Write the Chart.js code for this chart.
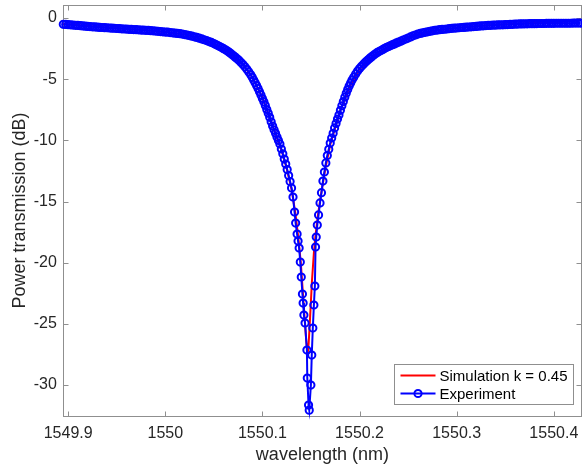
<!DOCTYPE html>
<html>
<head>
<meta charset="utf-8">
<script src="https://cdn.jsdelivr.net/npm/chart.js@4/dist/chart.umd.min.js"></script>
<style>
html, body { margin: 0; padding: 0; background: #fff; }
canvas { display: block; }
</style>
</head>
<body>
<canvas id="c" width="582" height="467"></canvas>
<script>
// measured transmission (nm, dB)
const expWavelength = [
  1549.8950,1549.8975,1549.9000,1549.9025,1549.9050,1549.9075,1549.9100,1549.9125,1549.9150,1549.9175,
  1549.9200,1549.9225,1549.9250,1549.9275,1549.9300,1549.9325,1549.9350,1549.9375,1549.9400,1549.9425,
  1549.9450,1549.9475,1549.9500,1549.9525,1549.9550,1549.9575,1549.9600,1549.9625,1549.9650,1549.9675,
  1549.9700,1549.9725,1549.9750,1549.9775,1549.9800,1549.9825,1549.9850,1549.9875,1549.9900,1549.9925,
  1549.9950,1549.9975,1550.0000,1550.0025,1550.0050,1550.0075,1550.0100,1550.0125,1550.0150,1550.0175,
  1550.0200,1550.0225,1550.0250,1550.0275,1550.0300,1550.0325,1550.0350,1550.0375,1550.0400,1550.0425,
  1550.0450,1550.0475,
  1550.050,1550.052,1550.054,1550.056,1550.058,1550.060,1550.062,1550.064,1550.066,1550.068,
  1550.070,1550.072,1550.074,1550.076,1550.078,1550.080,1550.082,1550.084,1550.086,1550.088,
  1550.0895,1550.0910,1550.0925,1550.0940,1550.0955,1550.0970,1550.0985,1550.1000,1550.1015,1550.1030,
  1550.1045,1550.1060,1550.1075,1550.1090,1550.1105,1550.1120,1550.1135,1550.1150,1550.1165,1550.1180,
  1550.1195,1550.1210,1550.1225,1550.1240,1550.1255,1550.1270,1550.1285,1550.1300,1550.1315,
  1550.1331,1550.1342,1550.1357,1550.1367,1550.1378,1550.1390,1550.1400,1550.1412,1550.1419,1550.1427,
  1550.1439,1550.1458,1550.1462,1550.1475,1550.1482,1550.1499,1550.1508,1550.1519,1550.1530,1550.1540,
  1550.1547,1550.1554,1550.1565,1550.1578,1550.1593,
  1550.1608,1550.1623,1550.1638,1550.1653,1550.1668,1550.1683,1550.1698,1550.1713,1550.1728,1550.1743,
  1550.1758,1550.1773,1550.1788,1550.1803,1550.1818,1550.1833,1550.1848,1550.1863,1550.1878,1550.1893,
  1550.1908,1550.1923,
  1550.194,1550.196,1550.198,1550.200,1550.202,1550.204,1550.206,1550.208,1550.210,1550.212,
  1550.214,1550.216,1550.218,1550.220,1550.222,1550.224,1550.226,1550.228,1550.230,1550.232,
  1550.234,1550.236,1550.238,1550.240,
  1550.2425,1550.2450,1550.2475,1550.2500,1550.2525,1550.2550,1550.2575,1550.2600,1550.2625,1550.2650,
  1550.2675,1550.2700,1550.2725,1550.2750,1550.2775,1550.2800,1550.2825,1550.2850,1550.2875,1550.2900,
  1550.2925,1550.2950,1550.2975,1550.3000,1550.3025,1550.3050,1550.3075,1550.3100,1550.3125,1550.3150,
  1550.3175,1550.3200,1550.3225,1550.3250,1550.3275,1550.3300,1550.3325,1550.3350,1550.3375,1550.3400,
  1550.3425,1550.3450,1550.3475,1550.3500,1550.3525,1550.3550,1550.3575,1550.3600,1550.3625,1550.3650,
  1550.3675,1550.3700,1550.3725,1550.3750,1550.3775,1550.3800,1550.3825,1550.3850,1550.3875,1550.3900,
  1550.3925,1550.3950,1550.3975,1550.4000,1550.4025,1550.4050,1550.4075,1550.4100,1550.4125,1550.4150,
  1550.4175,1550.4200,1550.4225,1550.4250,1550.4275
];
const expPower = [
  -0.52,-0.53,-0.55,-0.56,-0.58,-0.60,-0.61,-0.63,-0.65,-0.67,
  -0.69,-0.70,-0.72,-0.73,-0.75,-0.77,-0.78,-0.79,-0.80,-0.82,
  -0.83,-0.84,-0.86,-0.87,-0.89,-0.90,-0.91,-0.93,-0.94,-0.95,
  -0.96,-0.97,-0.99,-1.00,-1.01,-1.02,-1.04,-1.05,-1.07,-1.09,
  -1.11,-1.13,-1.15,-1.16,-1.19,-1.21,-1.24,-1.26,-1.28,-1.32,
  -1.36,-1.40,-1.44,-1.49,-1.54,-1.59,-1.65,-1.71,-1.78,-1.85,
  -1.93,-2.00,
  -2.09,-2.17,-2.25,-2.33,-2.42,-2.51,-2.60,-2.70,-2.82,-2.94,
  -3.07,-3.20,-3.34,-3.47,-3.64,-3.81,-3.99,-4.20,-4.41,-4.64,
  -4.85,-5.07,-5.29,-5.52,-5.76,-6.03,-6.29,-6.58,-6.85,-7.15,
  -7.48,-7.79,-8.12,-8.49,-8.83,-9.14,-9.43,-9.73,-10.01,-10.30,
  -10.71,-11.10,-11.53,-11.94,-12.39,-12.88,-13.37,-13.90,-14.63,
  -15.86,-16.76,-17.66,-18.23,-18.80,-19.95,-21.17,-22.56,-23.30,-24.28,
  -24.93,-27.14,-29.43,-31.64,-32.05,-30.00,-27.55,-25.34,-23.46,-21.91,
  -18.72,-17.90,-16.92,-16.10,-15.12,
  -14.28,-13.33,-12.59,-11.85,-11.24,-10.73,-10.22,-9.81,-9.43,-8.99,
  -8.62,-8.26,-7.93,-7.55,-7.18,-6.83,-6.47,-6.15,-5.85,-5.56,
  -5.31,-5.07,
  -4.84,-4.57,-4.34,-4.13,-3.95,-3.78,-3.61,-3.47,-3.33,-3.20,
  -3.07,-2.95,-2.84,-2.75,-2.66,-2.57,-2.48,-2.40,-2.33,-2.25,
  -2.18,-2.12,-2.04,-1.98,
  -1.90,-1.81,-1.72,-1.64,-1.55,-1.46,-1.39,-1.32,-1.26,-1.21,
  -1.17,-1.13,-1.09,-1.05,-1.01,-0.99,-0.96,-0.94,-0.92,-0.90,
  -0.87,-0.85,-0.83,-0.82,-0.80,-0.78,-0.77,-0.75,-0.74,-0.72,
  -0.70,-0.69,-0.67,-0.65,-0.64,-0.62,-0.61,-0.60,-0.59,-0.58,
  -0.57,-0.56,-0.56,-0.55,-0.54,-0.53,-0.52,-0.51,-0.50,-0.49,
  -0.49,-0.48,-0.48,-0.47,-0.47,-0.47,-0.46,-0.45,-0.45,-0.45,
  -0.44,-0.44,-0.44,-0.44,-0.43,-0.43,-0.43,-0.43,-0.43,-0.43,
  -0.43,-0.42,-0.42,-0.42,-0.42
];

// simulated curve, k = 0.45
const simWavelength = [
  1549.895,1549.92,1549.95,1549.98,1550.00,1550.02,1550.04,1550.06,1550.08,1550.09,
  1550.10,1550.11,1550.12,1550.125,1550.13,1550.134,1550.137,1550.1395,1550.1415,1550.1434,
  1550.1450,1550.1460,1550.1468,1550.1476,1550.1490,1550.1510,1550.1530,1550.1545,1550.1570,1550.160,
  1550.165,1550.170,1550.180,1550.190,1550.200,1550.220,1550.240,1550.260,1550.280,1550.300,
  1550.330,1550.360,1550.390,1550.410,1550.4275
];
const simPower = [
  -0.50,-0.66,-0.84,-1.00,-1.14,-1.35,-1.78,-2.50,-3.80,-4.90,
  -6.50,-8.70,-10.90,-12.30,-14.00,-16.00,-18.00,-20.00,-22.30,-24.50,
  -26.30,-27.10,-27.30,-26.60,-24.60,-21.50,-19.20,-17.90,-16.20,-14.60,
  -12.20,-10.30,-7.60,-5.60,-4.20,-2.80,-2.00,-1.35,-1.00,-0.82,
  -0.62,-0.48,-0.38,-0.30,-0.15
];

const xTicks = [1549.9, 1550, 1550.1, 1550.2, 1550.3, 1550.4];
const yTicks = [-30, -25, -20, -15, -10, -5, 0];
const seriesLabels = ['Simulation k = 0.45', 'Experiment'];

const FONT = '"Liberation Sans", Arial, Helvetica, sans-serif';
const TEXT = '#262626';
const EDGE = '#8f8f8f';

const toPoints = (xs, ys) => xs.map((x, i) => ({ x: x, y: ys[i] }));

// matlab-ish box with inward ticks on all four sides
const boxPlugin = {
  id: 'box',
  beforeDatasetsDraw(chart) {
    const { ctx, chartArea: a, scales } = chart;
    const L = Math.round(a.left) + 0.5, R = Math.round(a.right) - 0.5;
    const T = Math.round(a.top) + 0.5, B = Math.round(a.bottom) + 0.5;
    ctx.save();
    ctx.strokeStyle = EDGE;
    ctx.lineWidth = 1;
    ctx.beginPath();
    xTicks.forEach(v => {
      const px = Math.round(scales.x.getPixelForValue(v)) + 0.5;
      ctx.moveTo(px, B); ctx.lineTo(px, B - 5);
      ctx.moveTo(px, T); ctx.lineTo(px, T + 5);
    });
    yTicks.forEach(v => {
      const py = Math.round(scales.y.getPixelForValue(v)) + 0.5;
      ctx.moveTo(L, py); ctx.lineTo(L + 5, py);
      ctx.moveTo(R, py); ctx.lineTo(R - 5, py);
    });
    ctx.stroke();
    ctx.strokeRect(L, T, R - L, B - T);
    ctx.restore();
  }
};

// legend box in the lower right corner of the axes
const legendPlugin = {
  id: 'cornerLegend',
  afterDatasetsDraw(chart) {
    const { ctx, chartArea: a } = chart;
    const w = 179, h = 40;
    const x0 = Math.round(a.right - 187.5) + 0.5, y0 = Math.round(a.bottom - 52) + 0.5;
    ctx.save();
    ctx.fillStyle = '#fff';
    ctx.fillRect(x0, y0, w, h);
    ctx.strokeStyle = EDGE;
    ctx.lineWidth = 1;
    ctx.strokeRect(x0, y0, w, h);
    ctx.font = '15px ' + FONT;
    ctx.textBaseline = 'middle';
    ctx.textAlign = 'left';
    chart.data.datasets.forEach((ds, i) => {
      const y = y0 + 11 + i * 18;
      ctx.strokeStyle = ds.borderColor;
      ctx.lineWidth = 2;
      ctx.beginPath();
      ctx.moveTo(x0 + 6, y);
      ctx.lineTo(x0 + 41, y);
      ctx.stroke();
      if (ds.pointRadius > 0) {
        ctx.beginPath();
        ctx.arc(x0 + 23.5, y, ds.pointRadius, 0, Math.PI * 2);
        ctx.stroke();
      }
      ctx.fillStyle = '#000';
      ctx.fillText(ds.label, x0 + 45, y + 1);
    });
    ctx.restore();
  }
};

// chart.js reserves room for half a tick label at each end; the reference doesn't
const noEdgePad = s => {
  s.paddingTop = 0; s.paddingBottom = 0;
  s.paddingLeft = 0; s.paddingRight = 0;
};

new Chart(document.getElementById('c'), {
  type: 'line',
  data: {
    datasets: [
      {
        label: seriesLabels[0],
        data: toPoints(simWavelength, simPower),
        borderColor: '#ff0000',
        borderWidth: 2,
        pointRadius: 0,
        tension: 0,
        clip: false,
        order: 2
      },
      {
        label: seriesLabels[1],
        data: toPoints(expWavelength, expPower),
        borderColor: '#0000ff',
        borderWidth: 2,
        pointRadius: 3.6,
        pointBorderWidth: 2,
        pointBorderColor: '#0000ff',
        pointBackgroundColor: 'rgba(0,0,0,0)',
        tension: 0,
        clip: false,
        order: 1
      }
    ]
  },
  options: {
    responsive: false,
    animation: false,
    devicePixelRatio: 1,
    events: [],
    layout: { autoPadding: false, padding: { top: 5, right: 0.5, left: 0, bottom: 0 } },
    plugins: {
      legend: { display: false },
      tooltip: { enabled: false }
    },
    scales: {
      x: {
        type: 'linear',
        min: 1549.895,
        max: 1550.4285,
        border: { display: false },
        grid: { display: false, drawTicks: false },
        afterBuildTicks: s => { s.ticks = xTicks.map(v => ({ value: v })); },
        afterFit: s => { s.height = 51; noEdgePad(s); },
        ticks: {
          padding: 8,
          color: TEXT,
          autoSkip: false,
          maxRotation: 0,
          font: { family: FONT, size: 16 },
          callback: v => String(+v.toFixed(1))
        },
        title: {
          display: true,
          text: 'wavelength (nm)',
          color: TEXT,
          font: { family: FONT, size: 18 },
          padding: { top: 0, bottom: 1 }
        }
      },
      y: {
        min: -32.53,
        max: 1.06,
        border: { display: false },
        grid: { display: false, drawTicks: false },
        afterBuildTicks: s => { s.ticks = yTicks.map(v => ({ value: v })); },
        afterFit: s => { s.width = 63.3; noEdgePad(s); },
        ticks: {
          padding: 6.5,
          color: TEXT,
          font: { family: FONT, size: 16 },
          callback: v => String(v)
        },
        title: {
          display: true,
          text: 'Power transmission (dB)',
          color: TEXT,
          font: { family: FONT, size: 18 },
          padding: { top: 9, bottom: 0 }
        }
      }
    }
  },
  plugins: [boxPlugin, legendPlugin]
});
</script>
</body>
</html>
